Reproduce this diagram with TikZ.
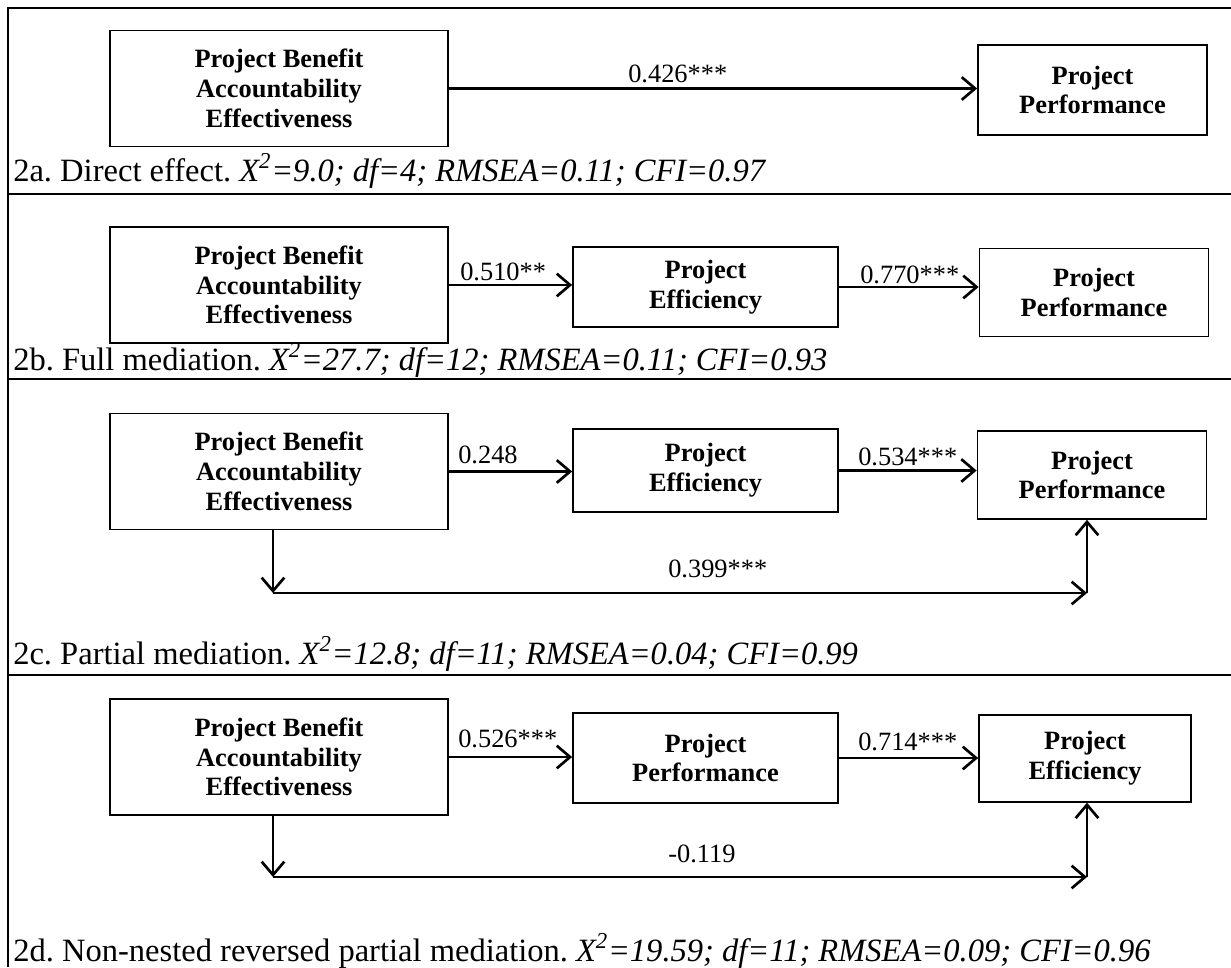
\documentclass[tikz,border=0pt]{standalone}
\usepackage{fontspec}
\setmainfont{Liberation Serif}
\usetikzlibrary{arrows.meta}
\frenchspacing
\begin{document}
\begin{tikzpicture}[x=0.75pt,y=-0.75pt,
  box/.style={draw, line width=1.3pt, align=center, inner sep=0pt, font=\bfseries\fontsize{19.8}{22.3}\selectfont},
  lbox/.style={box, minimum width=253.5pt, minimum height=87pt},
  mbox/.style={box, minimum width=198.75pt, minimum height=60pt},
  rbox/.style={box, minimum width=171.75pt, minimum height=66pt},
  conn/.style={line width=2pt, -{Straight Barb[length=10pt,width=17pt]}},
  lab/.style={anchor=base west, inner sep=0pt, font=\fontsize{19.8}{22}\selectfont},
  captext/.style={anchor=base west, inner sep=0pt, font=\fontsize{24.4}{26}\selectfont},
  frameline/.style={line width=2pt}]
\useasboundingbox (0,0) rectangle (1231,967);
% frame
\draw[frameline] (1231,8) -- (8,8) -- (8,967);
\draw[frameline] (8,194) -- (1231,194);
\draw[frameline] (8,379) -- (1231,379);
\draw[frameline] (8,675) -- (1231,675);

% ---- 2a
\node[lbox] (a1) at (279,88.5) {Project Benefit\\Accountability\\Effectiveness};
\node[rbox, minimum height=67.5pt] (a2) at (1092.5,90) {Project\\Performance};
\draw[conn] (a1.east) -- (a1.east -| a2.west);
\node[lab] (la) at (628,82) {0.426***};
\node[captext] (ca) at (13,181) {2a. Direct effect. \textit{X\textsuperscript{2}=9.0; df=4; RMSEA=0.11; CFI=0.97}};

% ---- 2b
\node[lbox] (b1) at (279,285) {Project Benefit\\Accountability\\Effectiveness};
\node[mbox] (b2) at (705.5,287) {Project\\Efficiency};
\node[rbox] (b3) at (1094,292.5) {Project\\Performance};
\draw[conn] (b1.east) -- (b1.east -| b2.west);
\draw[conn] (b2.east) -- (b2.east -| b3.west);
\node[lab] (lb1) at (460,280) {0.510**};
\node[lab] (lb2) at (860,283) {0.770***};
\node[captext] (cb) at (13,370) {2b. Full mediation. \textit{X\textsuperscript{2}=27.7; df=12; RMSEA=0.11; CFI=0.93}};

% ---- 2c
\node[lbox] (c1) at (279,471.5) {Project Benefit\\Accountability\\Effectiveness};
\node[mbox, minimum height=62.25pt] (c2) at (705.5,470.5) {Project\\Efficiency};
\node[rbox] (c3) at (1092,475) {Project\\Performance};
\draw[conn] (c1.east) -- (c1.east -| c2.west);
\draw[conn] (c2.east) -- (c2.east -| c3.west);
\coordinate (cd) at (273,593);
\coordinate (ce) at (1087,593);
\draw[conn] (cd |- c1.south) -- (cd);
\draw[conn] (cd) -- (ce);
\draw[conn] (ce) -- (ce |- c3.south);
\node[lab] (lc1) at (458,463) {0.248};
\node[lab] (lc2) at (858,465) {0.534***};
\node[lab] (lc3) at (668,577) {0.399***};
\node[captext] (cc) at (13,664) {2c. Partial mediation. \textit{X\textsuperscript{2}=12.8; df=11; RMSEA=0.04; CFI=0.99}};

% ---- 2d
\node[lbox] (d1) at (279,757) {Project Benefit\\Accountability\\Effectiveness};
\node[mbox, minimum height=67.5pt] (d2) at (705.5,758) {Project\\Performance};
\node[box, minimum width=159pt, minimum height=65pt] (d3) at (1085,758.5) {Project\\Efficiency};
\draw[conn] (d1.east) -- (d1.east -| d2.west);
\draw[conn] (d2.east) -- (d2.east -| d3.west);
\coordinate (dd) at (273,877);
\coordinate (de) at (1087,877);
\draw[conn] (dd |- d1.south) -- (dd);
\draw[conn] (dd) -- (de);
\draw[conn] (de) -- (de |- d3.south);
\node[lab] (ld1) at (458,747) {0.526***};
\node[lab] (ld2) at (858,750) {0.714***};
\node[lab] (ld3) at (668,862) {-0.119};
\node[captext] (cd2) at (13,961) {2d. Non-nested reversed partial mediation. \textit{X\textsuperscript{2}=19.59; df=11; RMSEA=0.09; CFI=0.96}};
\end{tikzpicture}
\end{document}
